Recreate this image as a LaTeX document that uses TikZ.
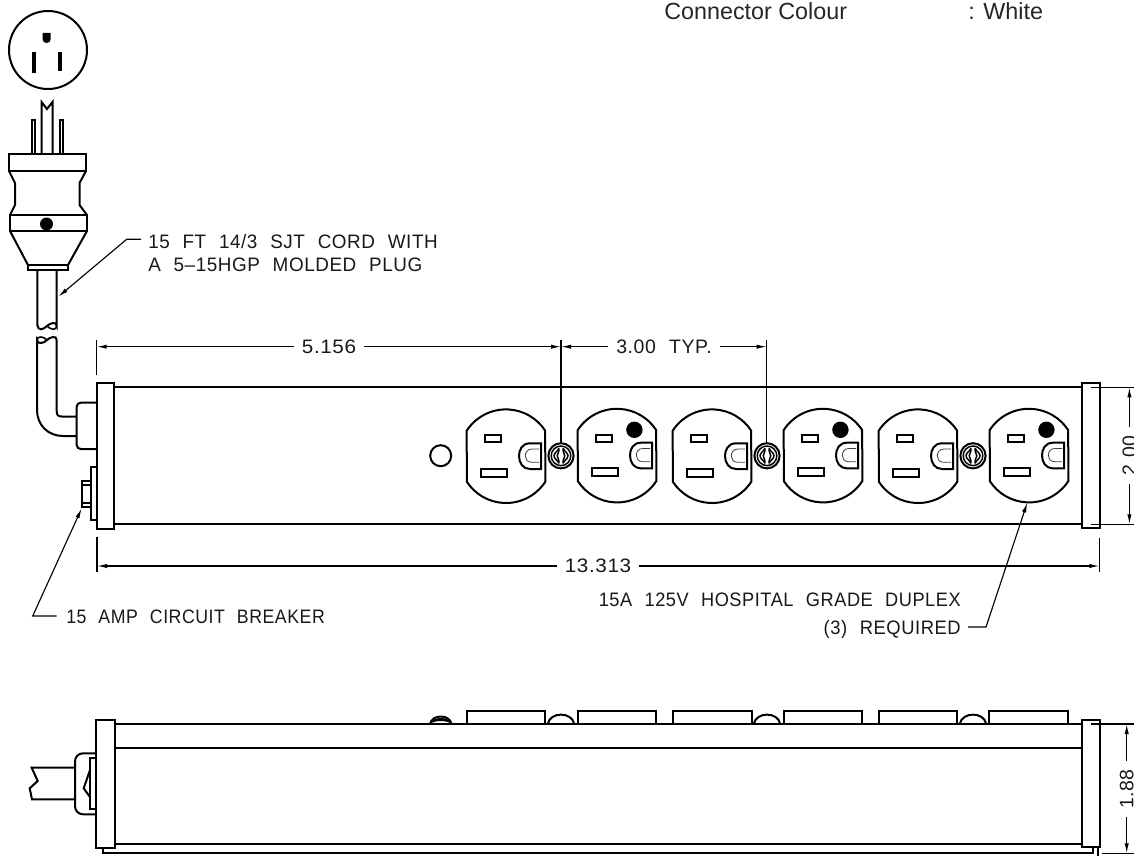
\documentclass[tikz,border=0pt]{standalone}
\usepackage{fontspec}
\usepackage{graphicx}
\usetikzlibrary{arrows.meta}
\setmainfont{Liberation Sans}
\newfontfamily\cadfont[WordSpace=2.2,LetterSpace=3]{Liberation Sans}
\tikzset{
  ln/.style={line width=1.5pt,line join=miter},
  thinln/.style={line width=1pt},
  dimln/.style={line width=0.85pt,-{Latex[length=7.5pt,width=3.2pt]}},
  cad/.style={font=\cadfont\fontsize{14.6pt}{14.6pt}\selectfont,inner sep=0pt,text=black!90},
  gap/.style={font=\cadfont\fontsize{14.6pt}{14.6pt}\selectfont,inner xsep=6pt,inner ysep=0pt,text=black!90},
  arial/.style={font=\fontsize{17.5pt}{17.5pt}\selectfont,inner sep=0pt,text=black!85}
}
\newcommand{\recepticle}[3]{%
  \begin{scope}[shift={(#1,#2)}]
    \draw[ln] (-39.3,-25.3) arc[start angle=213,end angle=327,radius=46.8] -- (39.3,25.7)
      arc[start angle=33,end angle=147,radius=46.8] -- cycle;
    \draw[ln] (-21,-20.7) rectangle (-5,-13.7);
    \draw[ln] (-25,13) rectangle (1,20.7);
    \draw[ln] (35,-12.7) -- (24,-12.7) .. controls (16,-12.7) and (13,-6) .. (13,0)
      .. controls (13,7) and (17,13) .. (24,13) -- (35,13) -- cycle;
    \draw[line width=0.6pt,black!75] (33,-7) -- (26,-7) .. controls (21,-7) and (19.3,-3) .. (19.3,0)
      .. controls (19.3,3) and (21,6.3) .. (26,6.3) -- (33,6.3);
    \ifnum#3=1 \fill[black] (17.4,-25.6) circle (8.2); \fi
  \end{scope}}
\newcommand{\screwhead}[1]{%
  \begin{scope}[shift={(#1,455.8)}]
    \draw[ln] (0,0) circle (12.6);
    \draw[line width=1.1pt] (0,0) circle (9.8);
    \draw[line width=1.1pt] (-2.2,-7.5) .. controls (-3,-4.5) and (-7,-3) .. (-7,0)
      .. controls (-7,3) and (-3,4.5) .. (-2.2,7.5);
    \draw[line width=1.1pt] (2.2,-7.5) .. controls (3,-4.5) and (7,-3) .. (7,0)
      .. controls (7,3) and (3,4.5) .. (2.2,7.5);
    \draw[line width=1.1pt] (-2.2,-7.5) .. controls (-1.5,-3.5) and (-3.8,-2) .. (-3.8,0)
      .. controls (-3.8,2) and (-1.5,3.5) .. (-2.2,7.5);
    \draw[line width=1.1pt] (2.2,-7.5) .. controls (1.5,-3.5) and (3.8,-2) .. (3.8,0)
      .. controls (3.8,2) and (1.5,3.5) .. (2.2,7.5);
  \end{scope}}
\newcommand{\dome}[3]{\draw[ln] (#1-#2,724) .. controls (#1-#2+2,#3) and (#1+#2-2,#3) .. (#1+#2,724);}
\begin{document}
\begin{tikzpicture}[x=0.75pt,y=-0.75pt]
\useasboundingbox (0,0) rectangle (1134,856);
\clip (0,0) rectangle (1134,856);
\fill[white] (0,0) rectangle (1134,856);

% header text
\node[arial,anchor=base west] (hdrA) at (664,20) {Connector Colour};
\node[arial,anchor=base west] (hdrB) at (968,20) {: White};

% plug face
\draw[ln] (48,50) circle (39);
\fill (42.5,33) -- (50.7,33) -- (50.7,39) arc[start angle=0,end angle=180,radius=4.1] -- cycle;
\fill (32.3,52) rectangle (36.3,73);
\fill (57.5,52) rectangle (61.5,71);

% plug side
\draw[ln] (32,154) -- (32,119.5) -- (35.3,119.5) -- (35.3,154);
\draw[ln] (59.5,154) -- (59.5,119.5) -- (63,119.5) -- (63,154);
\draw[ln] (41.5,154) -- (41.5,102) -- (47,109) -- (52.5,102) -- (52.5,154);
\draw[ln] (9,154) rectangle (86,171);
\draw[ln] (9,171) -- (15,183) -- (15,205) -- (10,215);
\draw[ln] (86,171) -- (79.5,183) -- (79.5,205) -- (87,215);
\draw[ln] (10,215) rectangle (87,231);
\fill (46.5,224) circle (6.5);
\draw[ln] (10,231) -- (28,265);
\draw[ln] (87,231) -- (68,265);
\draw[ln] (28,265) rectangle (68,270);

% cord, upper piece and break
\draw[ln] (37.3,270) -- (37.3,325) .. controls (38,331) and (43,330) .. (47,326)
  .. controls (50,323) and (56.7,321) .. (56.7,326) -- (56.7,270);
\draw[line width=1.2pt] (47,326) .. controls (50,329.5) and (56.7,331) .. (56.7,326);
% cord, lower piece
\draw[ln] (56.7,340) .. controls (56.7,335) and (50,337) .. (47,340)
  .. controls (44,343.5) and (37,344.5) .. (37,340) -- (37,410)
  .. controls (37,425) and (48,436) .. (63,436) -- (76.7,436);
\draw[line width=1.2pt] (47,340) .. controls (44,336.5) and (37,335.5) .. (37,340);
\draw[ln] (56.7,340) -- (56.7,411) .. controls (56.7,415) and (58,416.5) .. (62,416.5) -- (76.7,416.5);

% strain relief
\draw[ln,rounded corners=3pt] (97,402.7) -- (76.7,402.7) -- (76.7,449) -- (97,449);

% breaker
\draw[ln] (96.7,467.3) -- (90.7,467.3) -- (90.7,520) -- (96.7,520);
\draw[line width=1.2pt] (90.7,480.7) -- (81.7,480.7) -- (81.7,506.7) -- (90.7,506.7);
\draw[line width=1.2pt] (81.7,485) -- (90.7,485) (81.7,502.7) -- (90.7,502.7);

% main body (top view)
\draw[ln] (96.7,382.7) rectangle (114,528.7);
\draw[ln] (1081.7,383.3) rectangle (1100,528.3);
\draw[ln] (114,387.3) -- (1081.7,387.3);
\draw[ln] (114,524.3) -- (1081.7,524.3);
\draw[ln] (440.7,455.7) circle (10.5);

\recepticle{506}{456}{0}
\recepticle{617}{455.4}{1}
\recepticle{712}{456}{0}
\recepticle{823}{455.4}{1}
\recepticle{918}{456}{0}
\recepticle{1029}{455.4}{1}
\screwhead{561}
\screwhead{767}
\screwhead{973}

% dimension 5.156
\coordinate (extA) at (96.7,346.7);
\coordinate (extB) at (561,346.7);
\coordinate (extC) at (766.7,346.7);
\draw[thinln] (96.7,340) -- (96.7,374.5);
\draw[thinln] (561,340) -- (561,443);
\draw[thinln] (766.7,340) -- (766.7,443);
\node[gap] (dimA) at (329,346.7) {\scalebox{1.06}[1]{5.156}};
\node[gap] (dimB) at (664,346.7) {3.00 TYP.};
\draw[dimln] (dimA.west) -- (extA);
\draw[dimln] (dimA.east) -- (extB);
\draw[dimln] (dimB.west) -- (extB);
\draw[dimln] (dimB.east) -- (extC);

% dimension 13.313
\coordinate (extD) at (97,566);
\coordinate (extE) at (1099.3,566);
\draw[thinln] (97,537) -- (97,572);
\draw[thinln] (1099.3,537.5) -- (1099.3,572);
\node[gap] (dimC) at (598,566) {\scalebox{1.06}[1]{13.313}};
\draw[dimln] (dimC.west) -- (extD);
\draw[dimln] (dimC.east) -- (extE);

% dimension 2.00
\coordinate (extF) at (1129.4,387.3);
\coordinate (extG) at (1129.4,524.3);
\draw[thinln] (1091,387.3) -- (1134,387.3);
\draw[thinln] (1091,524.3) -- (1134,524.3);
\node[gap,rotate=90] (dimD) at (1129.4,455.5) {2.00};
\draw[dimln] (dimD.east) -- (extF);
\draw[dimln] (dimD.west) -- (extG);

% leaders
\node[cad,anchor=base west] (noteA) at (148,248.5) {\scalebox{.97}[1]{15 FT 14/3 SJT CORD WITH}};
\node[cad,anchor=base west] (noteB) at (148,271.5) {\scalebox{.97}[1]{A 5–15HGP MOLDED PLUG}};
\node[cad,anchor=base west] (noteC) at (66,623.5) {\scalebox{.91}[1]{15 AMP CIRCUIT BREAKER}};
\node[cad,anchor=base east] (noteD) at (961,606) {\scalebox{.935}[1]{15A 125V HOSPITAL GRADE DUPLEX}};
\node[cad,anchor=base east] (noteE) at (961,634) {\scalebox{.945}[1]{(3) REQUIRED}};
\coordinate (tipA) at (58.3,296.7);
\coordinate (kneeA) at (126.7,239.3);
\coordinate (tipC) at (81.7,508.3);
\coordinate (kneeC) at (32.7,616);
\coordinate (tipE) at (1027.3,502.5);
\coordinate (kneeE) at (986,627);
\draw[dimln] (141,239.3) -- (kneeA) -- (tipA);
\draw[dimln] (56.7,616) -- (kneeC) -- (tipC);
\draw[dimln] (968,627) -- (kneeE) -- (tipE);

% side view
\draw[ln] (96.3,720) rectangle (114.7,847.7);
\draw[ln] (1082,720) rectangle (1100,847.3);
\draw[ln] (114.7,724) -- (1082,724);
\draw[ln] (114.7,747.7) -- (1082,747.7);
\draw[ln] (114.7,844) -- (1082,844);
\draw[ln] (102.7,847.7) -- (102.7,853.3) -- (1093.3,853.3) -- (1093.3,847.3);
\draw[line width=1.2pt] (1098,847.3) -- (1098,856);
\foreach \xa/\xb in {467.3/545.3,578.3/656,673.3/751.7,784/862,879/957,989.3/1068}
  \draw[ln] (\xa,724) -- (\xa,710.7) -- (\xb,710.7) -- (\xb,724);
\dome{440.8}{10.8}{714}
\fill (430,724) .. controls (432,716) and (449.6,716) .. (451.6,724) .. controls (447,720) and (434.6,720) .. (430,724);
\dome{561}{13.2}{711.5}
\dome{767}{13.2}{711.5}
\dome{973}{13.2}{711.5}
% side plug
\draw[ln,rounded corners=6pt] (96.3,753.3) -- (75,753.3) -- (75,814.3) -- (96.3,814.3);
\draw[ln] (96.3,758.3) -- (90,758.3) -- (90,809.3) -- (96.3,809.3);
\draw[ln] (90,770) -- (83.7,788.3) -- (90,797);
\draw[ln] (75,767.7) -- (31.7,767.7) -- (37.7,781) -- (29.7,788.3) -- (32,799.3) -- (75,799.3);

% dimension 1.88
\coordinate (extH) at (1126.7,724);
\coordinate (extI) at (1126.7,853.3);
\draw[thinln] (1091,724) -- (1134,724);
\draw[thinln] (1102,853.3) -- (1134,853.3);
\node[gap,rotate=90] (dimE) at (1126.7,789) {1.88};
\draw[dimln] (dimE.east) -- (extH);
\draw[dimln] (dimE.west) -- (extI);
\end{tikzpicture}
\end{document}
